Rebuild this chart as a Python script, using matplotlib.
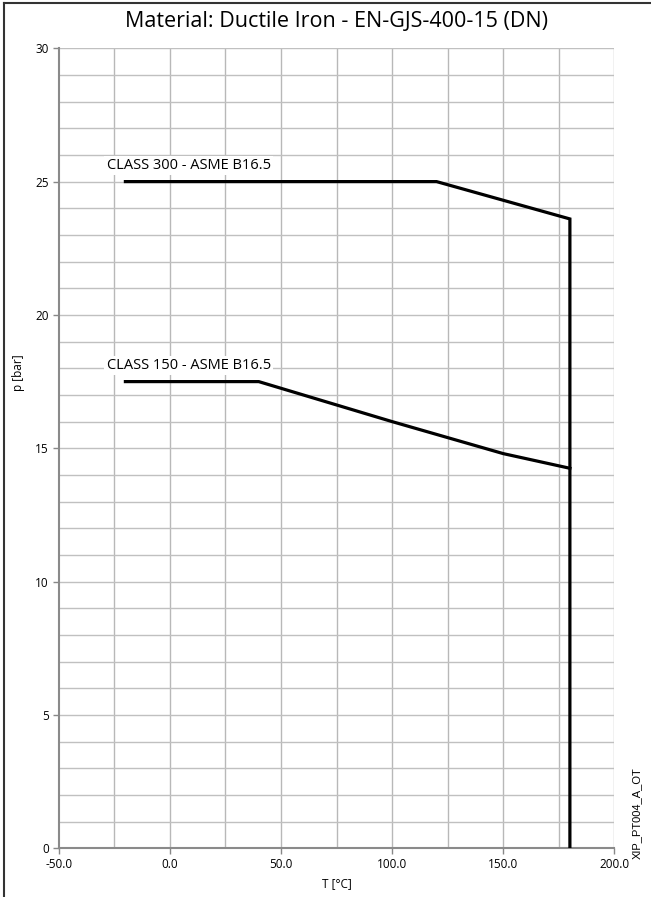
import matplotlib.pyplot as plt
from matplotlib.lines import Line2D
import numpy as np

# class 300 rating curve
t_300 = [-20, 120, 180, 180]
p_300 = [25.0, 25.0, 23.6, 0.0]
# class 150 rating curve
t_150 = [-20, 40, 100, 150, 180]
p_150 = [17.5, 17.5, 16.0, 14.8, 14.25]

x_ticks = [-50, 0, 50, 100, 150, 200]
y_ticks = [0, 5, 10, 15, 20, 25, 30]

plt.rcParams['font.family'] = ['Open Sans', 'DejaVu Sans']

fig = plt.figure(figsize=(6.51, 8.97), dpi=100)
ax = fig.add_axes([0.0902, 0.0543, 0.8535, 0.8919])

ax.set_xlim(-50, 200)
ax.set_ylim(0, 30)

# grid: every 25 degC and every 1 bar
for xv in np.arange(-25, 201, 25):
	ax.axvline(xv, color='#b8b8b8', lw=1, zorder=1)
for yv in np.arange(1, 31, 1):
	ax.axhline(yv, color='#c0c0c0', lw=1, zorder=1)

ax.plot(t_300, p_300, color='black', lw=2.3, solid_joinstyle='miter', zorder=3)
ax.plot(t_150, p_150, color='black', lw=2.3, solid_joinstyle='miter', zorder=3)

ax.text(-28.5, 25.6, 'CLASS 300 - ASME B16.5', fontsize=10.5, va='center', ha='left',
		bbox=dict(facecolor='white', edgecolor='none', pad=1.5), zorder=2)
ax.text(-28.5, 18.1, 'CLASS 150 - ASME B16.5', fontsize=10.5, va='center', ha='left',
		bbox=dict(facecolor='white', edgecolor='none', pad=1.5), zorder=2)

ax.set_xticks(x_ticks)
ax.set_xticklabels(['%.1f' % v for v in x_ticks])
ax.set_yticks(y_ticks)
ax.tick_params(axis='both', labelsize=8.5, color='#888888', length=4, width=1, pad=3)

for s in ['top', 'right']:
	ax.spines[s].set_visible(False)
for s in ['left', 'bottom']:
	ax.spines[s].set_color('#8a8a8a')
	ax.spines[s].set_linewidth(1.5)

fig.text(0.5169, 0.9755, 'Material: Ductile Iron - EN-GJS-400-15 (DN)', fontsize=15.5,
		ha='center', va='center')
fig.text(0.5169, 0.0145, 'T [°C]', fontsize=8.5, ha='center', va='center')
fig.text(0.028, 0.585, 'p [bar]', fontsize=8.5, rotation=90, ha='center', va='center')
fig.text(0.979, 0.093, 'XIP_PT004_A_OT', fontsize=8, rotation=90, ha='center', va='center',
		family='Liberation Sans')

# frame at left and top of the picture
fig.add_artist(Line2D([0.0068, 0.0068], [0, 0.9967], transform=fig.transFigure, color='#333333', lw=1.5))
fig.add_artist(Line2D([0.0068, 1.0], [0.9967, 0.9967], transform=fig.transFigure, color='#333333', lw=1.5))

fig.savefig('out.png', dpi=100)
